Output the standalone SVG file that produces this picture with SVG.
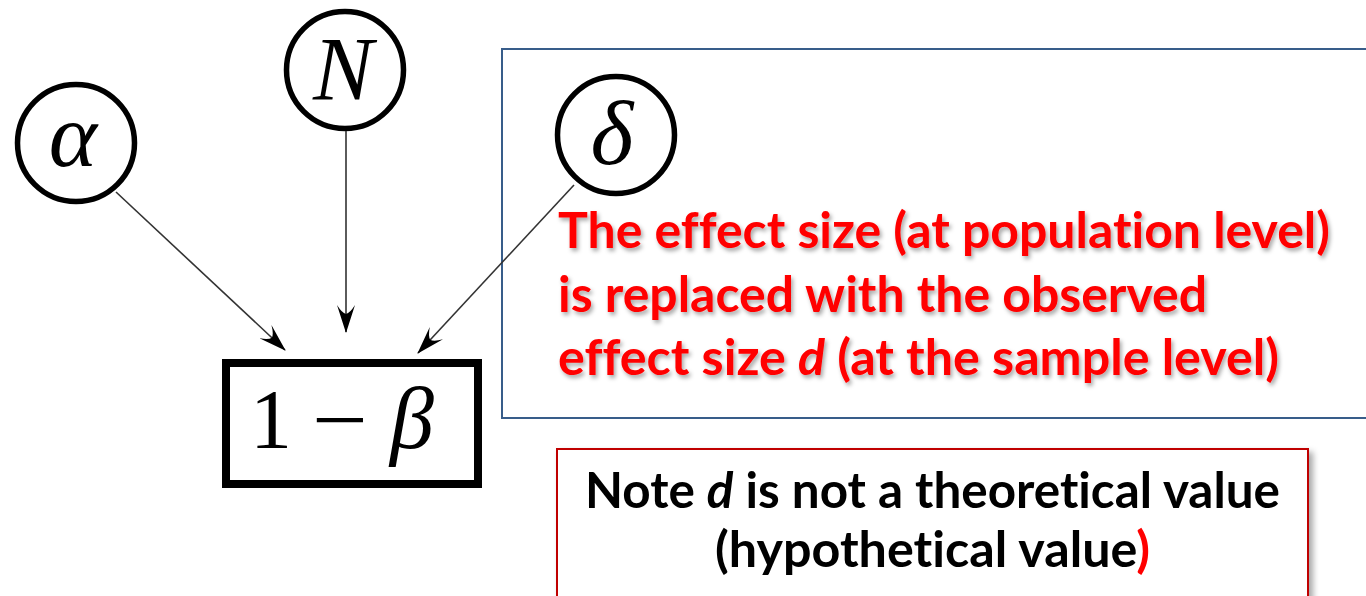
<svg xmlns="http://www.w3.org/2000/svg" width="1366" height="596" viewBox="0 0 1366 596">
<style>
  .node circle { fill: #fff; stroke: #000; stroke-width: 5.5; }
  .math { font-family: "Liberation Serif", "DejaVu Serif", serif; fill: #000; }
  .it { font-style: italic; }
  .conn line { stroke: #333; stroke-width: 1.6; marker-end: url(#stealth); }
  .red { font-family: Lato, "Open Sans", "Liberation Sans", sans-serif; font-weight: bold; font-size: 50px; fill: #ff0000; font-variant-ligatures: none; }
  .blk { font-family: Lato, "Open Sans", "Liberation Sans", sans-serif; font-weight: bold; font-size: 50px; fill: #000; font-variant-ligatures: none; }
</style>
<defs>
  <marker id="stealth" markerUnits="userSpaceOnUse" viewBox="0 0 28 18" refX="27" refY="9" markerWidth="28" markerHeight="18" orient="auto">
    <path d="M28,9 L0,0 Q8,5 9,9 Q8,13 0,18 Z" fill="#000"/>
  </marker>
  <filter id="tshadow" x="-5%" y="-20%" width="110%" height="150%">
    <feDropShadow dx="2" dy="3" stdDeviation="2" flood-color="#000" flood-opacity="0.35"/>
  </filter>
  <filter id="bshadow" x="-5%" y="-10%" width="112%" height="130%">
    <feDropShadow dx="4" dy="4" stdDeviation="3" flood-color="#000" flood-opacity="0.35"/>
  </filter>
</defs>
<rect width="1366" height="596" fill="#fff"/>

<g id="text-box">
  <rect x="502" y="49" width="900" height="369" fill="#fff" stroke="#385D8A" stroke-width="2"/>
</g>

<g id="node-alpha" class="node">
  <circle cx="76" cy="143" r="58.5"/>
  <text class="math it" x="73" y="166" font-size="92" text-anchor="middle">α</text>
</g>
<g id="node-N" class="node">
  <circle cx="345" cy="70" r="58.5"/>
  <text class="math it" x="343" y="100" font-size="90" text-anchor="middle">N</text>
</g>
<g id="node-delta" class="node">
  <circle cx="616" cy="135" r="58.5"/>
  <text class="math it" x="612" y="164" font-size="92" text-anchor="middle">δ</text>
</g>
<g id="node-power">
  <rect x="226" y="363" width="252" height="121" fill="#fff" stroke="#000" stroke-width="8"/>
  <text class="math" x="250" y="448" font-size="84">1</text>
  <text class="math" x="312" y="448" font-size="84" textLength="56" lengthAdjust="spacingAndGlyphs">−</text>
  <text class="math it" x="390" y="448" font-size="88">β</text>
</g>

<g id="connectors" class="conn">
  <line x1="116" y1="192" x2="285" y2="350"/>
  <line x1="346" y1="131" x2="346" y2="332"/>
  <line x1="574" y1="185" x2="418" y2="353"/>
</g>

<g id="red-note" filter="url(#tshadow)">
  <text class="red" x="558" y="248" textLength="772" lengthAdjust="spacingAndGlyphs">The effect size (at population level)</text>
  <text class="red" x="558" y="312" textLength="649" lengthAdjust="spacingAndGlyphs">is replaced with the observed</text>
  <text class="red" x="558" y="375" textLength="721" lengthAdjust="spacingAndGlyphs">effect size <tspan font-style="italic">d</tspan> (at the sample level)</text>
</g>

<g id="note-box">
  <rect x="557" y="449" width="751" height="170" fill="#fff" stroke="#C00000" stroke-width="2" filter="url(#bshadow)"/>
  <text class="blk" x="585" y="508" textLength="695" lengthAdjust="spacingAndGlyphs">Note <tspan font-style="italic">d</tspan> is not a theoretical value</text>
  <text class="blk" x="715" y="567" textLength="435" lengthAdjust="spacingAndGlyphs">(hypothetical value<tspan fill="#ff0000">)</tspan></text>
</g>
</svg>
